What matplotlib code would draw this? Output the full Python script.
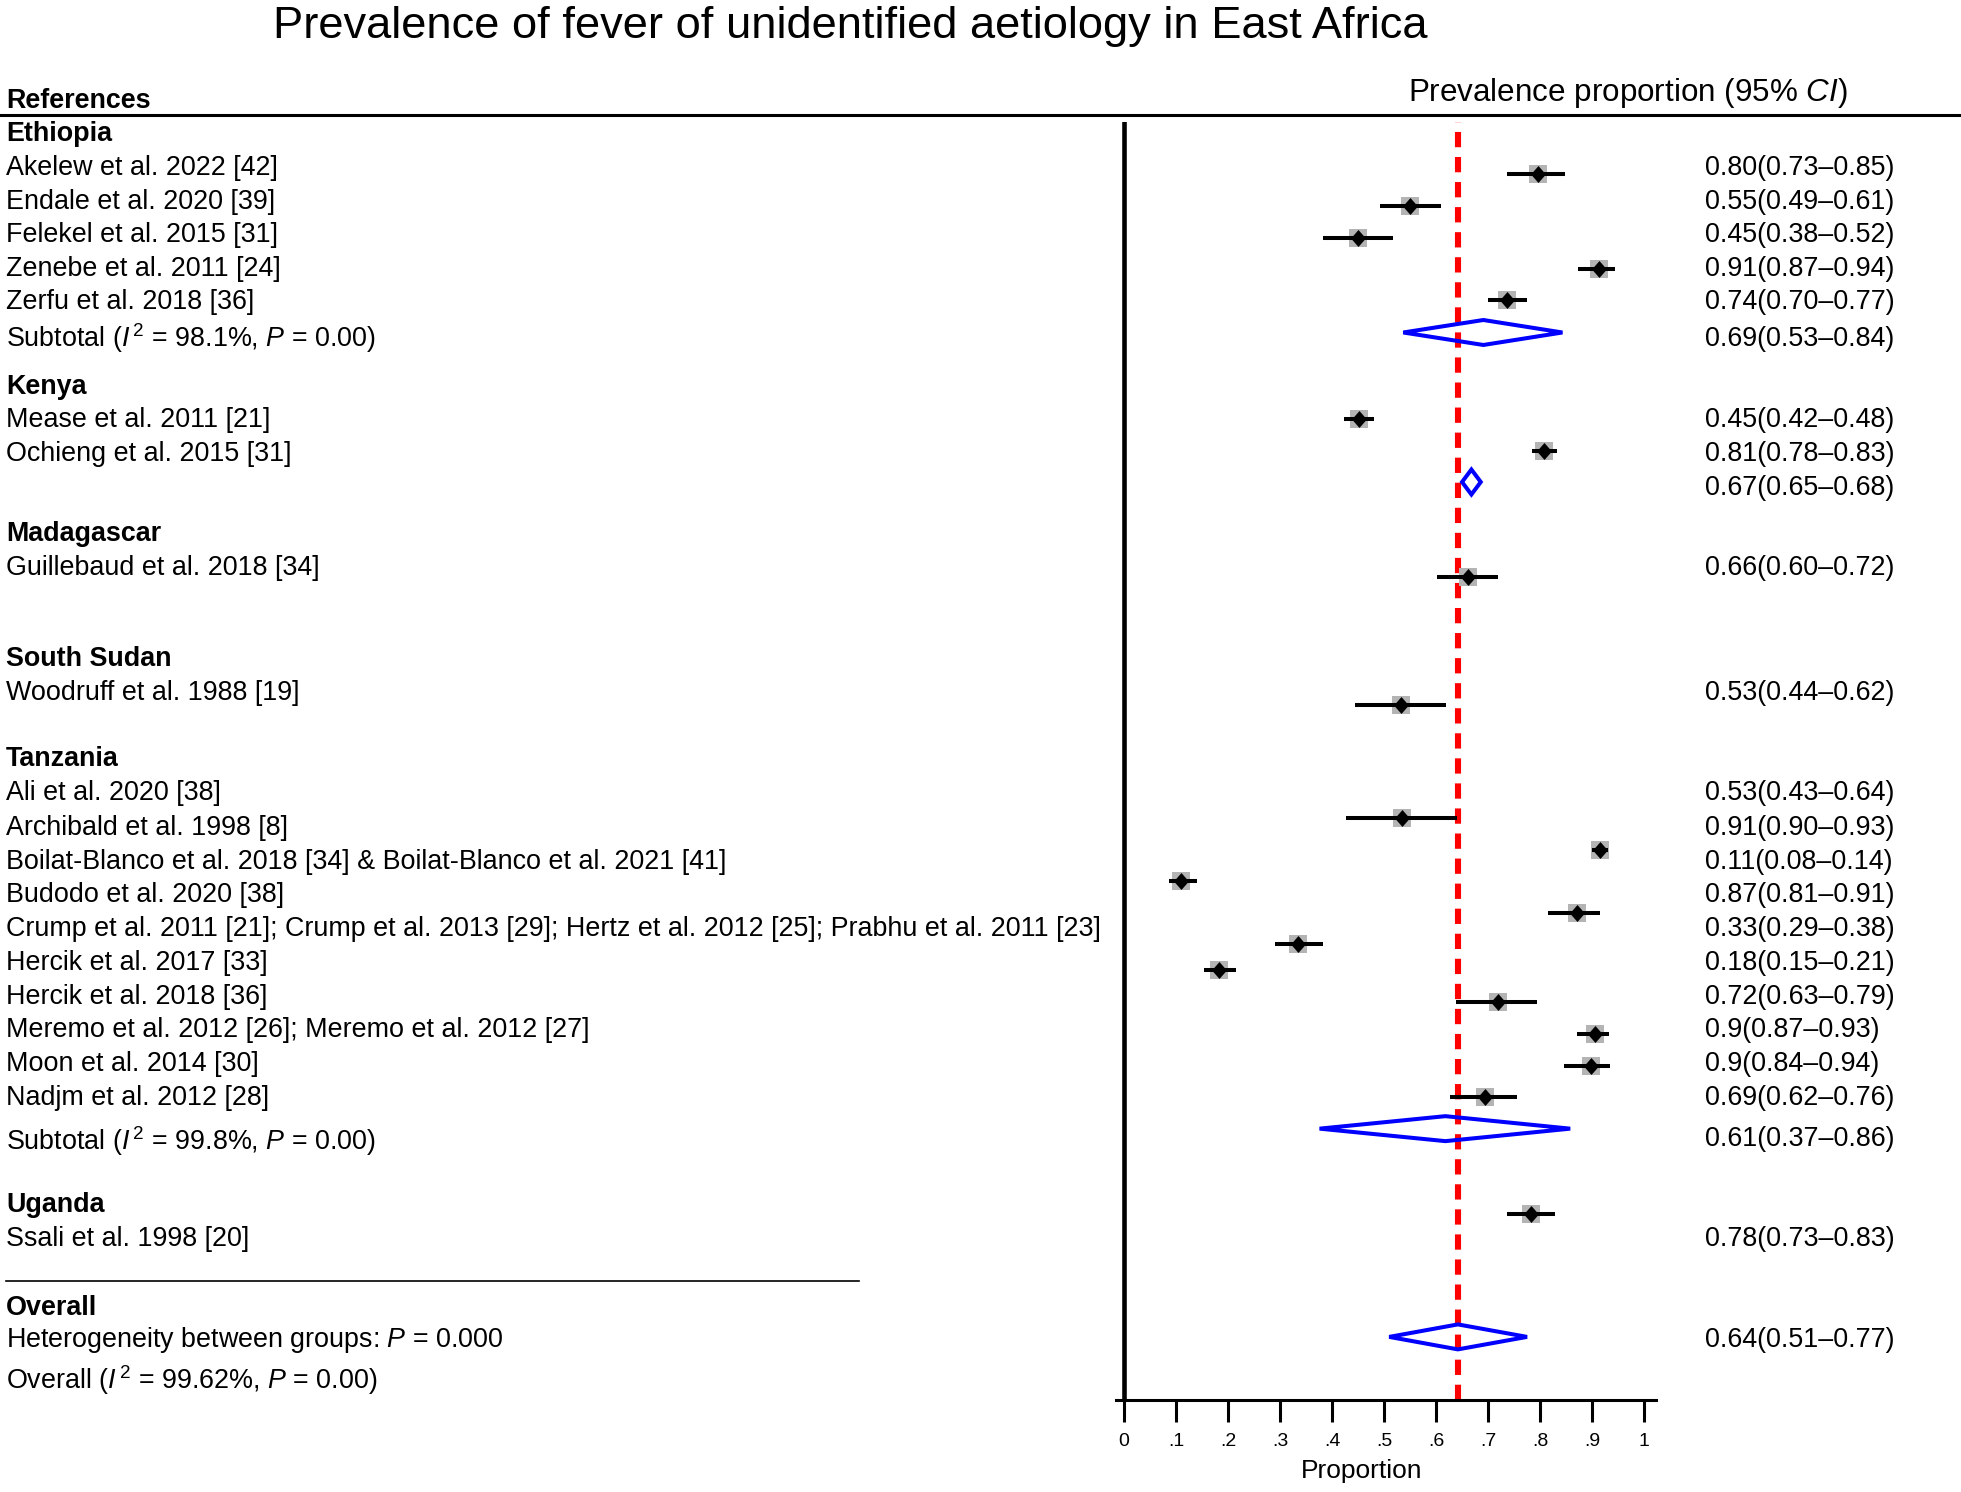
import matplotlib
matplotlib.use('Agg')
import matplotlib.pyplot as plt
from matplotlib.path import Path
from matplotlib.patches import Polygon

plt.rcParams['font.family'] = ['Liberation Sans', 'DejaVu Sans']
plt.rcParams['mathtext.fontset'] = 'custom'
plt.rcParams['mathtext.rm'] = 'Liberation Sans'
plt.rcParams['mathtext.it'] = 'Liberation Sans:italic'
plt.rcParams['mathtext.bf'] = 'Liberation Sans:bold'

# ---- data: left-hand labels (text, row, bold) ----
label_text = [
    'Ethiopia', 'Akelew et al. 2022 [42]', 'Endale et al. 2020 [39]', 'Felekel et al. 2015 [31]',
    'Zenebe et al. 2011 [24]', 'Zerfu et al. 2018 [36]',
    r'Subtotal ($\mathit{I}^{\,2}$ = 98.1%, $\mathit{P}$ = 0.00)',
    'Kenya', 'Mease et al. 2011 [21]', 'Ochieng et al. 2015 [31]',
    'Madagascar', 'Guillebaud et al. 2018 [34]',
    'South Sudan', 'Woodruff et al. 1988 [19]',
    'Tanzania', 'Ali et al. 2020 [38]', 'Archibald et al. 1998 [8]',
    'Boilat-Blanco et al. 2018 [34] & Boilat-Blanco et al. 2021 [41]',
    'Budodo et al. 2020 [38]',
    'Crump et al. 2011 [21]; Crump et al. 2013 [29]; Hertz et al. 2012 [25]; Prabhu et al. 2011 [23]',
    'Hercik et al. 2017 [33]', 'Hercik et al. 2018 [36]',
    'Meremo et al. 2012 [26]; Meremo et al. 2012 [27]', 'Moon et al. 2014 [30]',
    'Nadjm et al. 2012 [28]',
    r'Subtotal ($\mathit{I}^{\,2}$ = 99.8%, $\mathit{P}$ = 0.00)',
    'Uganda', 'Ssali et al. 1998 [20]',
    'Overall', r'Heterogeneity between groups: $\mathit{P}$ = 0.000',
    r'Overall ($\mathit{I}^{\,2}$ = 99.62%, $\mathit{P}$ = 0.00)',
]
label_row = [0, 1.01, 2.01, 3.0, 4.0, 5.0, 6.07,
             7.5, 8.49, 9.48,
             11.85, 12.86,
             15.56, 16.56,
             18.52, 19.53, 20.56, 21.57, 22.56, 23.56, 24.56, 25.57, 26.56, 27.56, 28.56, 29.85,
             31.74, 32.74,
             34.8, 35.75, 36.93]
bold_labels = ['Ethiopia', 'Kenya', 'Madagascar', 'South Sudan', 'Tanzania', 'Uganda', 'Overall']

# ---- data: right-hand estimate column ----
value_text = [
    '0.80(0.73–0.85)', '0.55(0.49–0.61)', '0.45(0.38–0.52)', '0.91(0.87–0.94)', '0.74(0.70–0.77)',
    '0.69(0.53–0.84)',
    '0.45(0.42–0.48)', '0.81(0.78–0.83)', '0.67(0.65–0.68)',
    '0.66(0.60–0.72)',
    '0.53(0.44–0.62)',
    '0.53(0.43–0.64)', '0.91(0.90–0.93)', '0.11(0.08–0.14)', '0.87(0.81–0.91)', '0.33(0.29–0.38)',
    '0.18(0.15–0.21)', '0.72(0.63–0.79)', '0.9(0.87–0.93)', '0.9(0.84–0.94)', '0.69(0.62–0.76)',
    '0.61(0.37–0.86)',
    '0.78(0.73–0.83)',
    '0.64(0.51–0.77)',
]
value_row = [1.01, 2.01, 3.0, 4.0, 5.0, 6.07,
             8.49, 9.48, 10.49,
             12.86,
             16.56,
             19.53, 20.56, 21.57, 22.56, 23.56, 24.56, 25.57, 26.56, 27.56, 28.56, 29.78,
             32.74,
             35.73]

# ---- data: study estimates as plotted ----
study_est = [0.797, 0.550, 0.449, 0.913, 0.737,
             0.451, 0.808,
             0.662,
             0.533,
             0.535, 0.915, 0.110, 0.871, 0.335, 0.183, 0.719, 0.905, 0.898, 0.694,
             0.782]
study_lo = [0.737, 0.492, 0.383, 0.873, 0.699,
            0.423, 0.785,
            0.601,
            0.445,
            0.427, 0.900, 0.086, 0.815, 0.290, 0.153, 0.638, 0.872, 0.846, 0.626,
            0.736]
study_hi = [0.848, 0.610, 0.517, 0.945, 0.774,
            0.480, 0.832,
            0.719,
            0.620,
            0.640, 0.930, 0.140, 0.915, 0.382, 0.216, 0.795, 0.933, 0.935, 0.755,
            0.828]
study_row = [1.28, 2.22, 3.16, 4.08, 5.02,
             8.53, 9.47,
             13.21,
             17.0,
             20.36, 21.29, 22.23, 23.17, 24.10, 24.87, 25.82, 26.76, 27.69, 28.62,
             32.10]

# ---- data: pooled estimates (diamonds) ----
pool_est = [0.691, 0.668, 0.618, 0.642]
pool_lo = [0.537, 0.650, 0.376, 0.510]
pool_hi = [0.843, 0.686, 0.858, 0.775]
pool_row = [5.97, 10.40, 29.56, 35.73]
overall_est = 0.642

ticks = [0, .1, .2, .3, .4, .5, .6, .7, .8, .9, 1]
tick_labels = ['0', '.1', '.2', '.3', '.4', '.5', '.6', '.7', '.8', '.9', '1']

# ---- layout ----
fig = plt.figure(figsize=(19.61, 14.92), dpi=100)
ax = fig.add_axes([0.5691, 0.06166, 0.2754, 0.85657])
ax.set_xlim(-0.01538, 1.02308)
ax.set_ylim(37.6, -0.2667)

for s in ['top', 'right', 'left']:
    ax.spines[s].set_visible(False)
ax.spines['bottom'].set_linewidth(2.2)
ax.set_yticks([])
ax.set_xticks(ticks)
ax.set_xticklabels(tick_labels, fontsize=14)
ax.tick_params(axis='x', direction='out', length=16, width=2.2, pad=8)
ax.set_xlabel('Proportion', fontsize=19)
ax.xaxis.set_label_coords(0.454, -0.046)

# reference lines
ax.axvline(0, color='black', lw=3.3, zorder=1)
ax.axvline(overall_est, color='#ff0000', lw=4.4, linestyle=(0, (2.5, 1.6)),
           dash_capstyle='butt', zorder=2)

# study markers
diamond = Path([(0, 1), (0.88, 0), (0, -1), (-0.88, 0), (0, 1)],
               [Path.MOVETO, Path.LINETO, Path.LINETO, Path.LINETO, Path.CLOSEPOLY])
ax.plot(study_est, study_row, 's', color='#b4b4b4', ms=13, mew=0, zorder=3)
ax.hlines(study_row, study_lo, study_hi, color='black', lw=2.9, zorder=4)
ax.plot(study_est, study_row, linestyle='none', marker=diamond, color='black',
        ms=12.2, mew=0, zorder=5)

# pooled diamonds
half_h = 0.37
for est, lo, hi, r in zip(pool_est, pool_lo, pool_hi, pool_row):
    poly = Polygon([(lo, r), (est, r - half_h), (hi, r), (est, r + half_h)],
                   closed=True, fill=False, edgecolor='#0000ff', lw=2.9, zorder=6)
    ax.add_patch(poly)

# text baseline nudge (rows)
dy = 0.08

# left-hand labels
for t, r in zip(label_text, label_row):
    ax.text(-2.15, r + dy, t, fontsize=19.4, va='center', ha='left', clip_on=False,
            fontweight='bold' if t in bold_labels else 'normal')

# right-hand values
for t, r in zip(value_text, value_row):
    ax.text(1.117, r + dy, t, fontsize=19.4, va='center', ha='left', clip_on=False)

# headers
ax.text(-2.15, -0.88, 'References', fontsize=19.4, fontweight='bold', va='center', ha='left',
        clip_on=False)
ax.text(0.969, -1.14, r'Prevalence proportion (95% $\mathit{CI}$)', fontsize=22.6,
        va='center', ha='center', clip_on=False)
ax.axhline(-0.474, xmin=-2.067, xmax=1.565, color='black', lw=2.2, clip_on=False)

# separator before overall section
ax.plot([-2.15, -0.509], [34.07, 34.07], color='black', lw=1.2, clip_on=False)

fig.text(0.4338, 0.9825, 'Prevalence of fever of unidentified aetiology in East Africa',
         fontsize=32.6, ha='center', va='center')

fig.savefig('out.png', dpi=100)
